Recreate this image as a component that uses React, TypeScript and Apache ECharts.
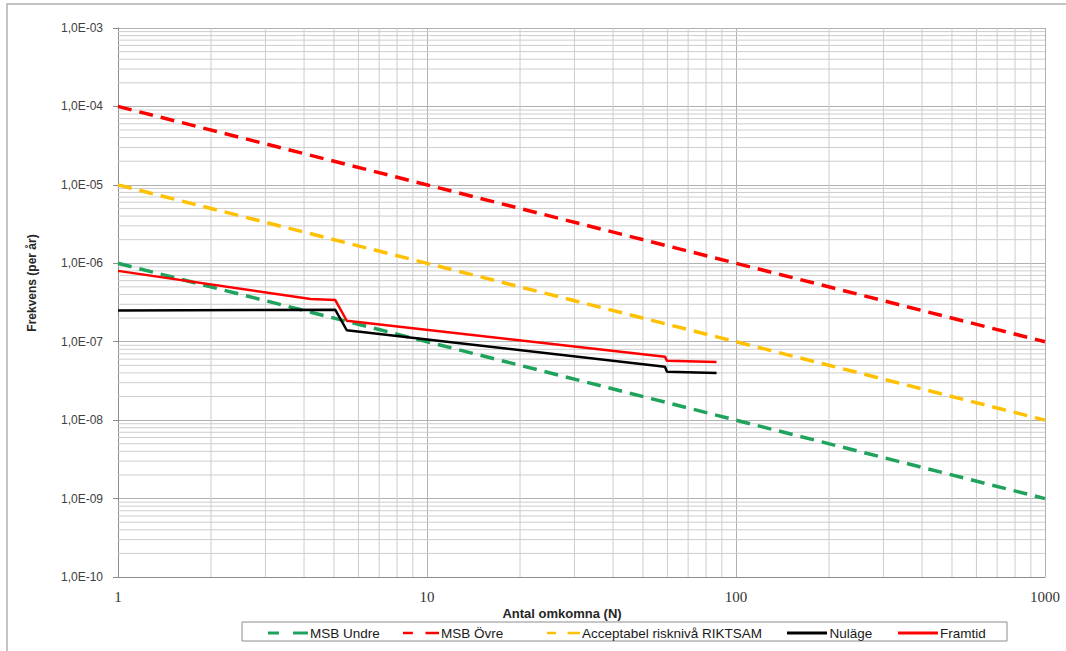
import React, { useEffect, useRef } from "react";
import * as echarts from "echarts";

// Antal omkomna (N) on the x axis, frekvens per år on the y axis (both log10)
const xTickLabels = ["1", "10", "100", "1000"];
const yTickLabels = [
  "1,0E-10",
  "1,0E-09",
  "1,0E-08",
  "1,0E-07",
  "1,0E-06",
  "1,0E-05",
  "1,0E-04",
  "1,0E-03",
];

// Criteria lines (slope -1 in log-log space)
const criteriaN = [1, 1000];
const msbUndreF = [1e-6, 1e-9];
const msbOvreF = [1e-4, 1e-7];
const riktsamF = [1e-5, 1e-8];

// F/N curves
const nulageN = [1, 5.05, 5.5, 58.9, 59.8, 86.5];
const nulageF = [2.5e-7, 2.55e-7, 1.4e-7, 4.8e-8, 4.15e-8, 4.0e-8];
const framtidN = [1, 4.2, 5.05, 5.5, 58.9, 59.8, 86.5];
const framtidF = [8e-7, 3.5e-7, 3.4e-7, 1.85e-7, 6.45e-8, 5.7e-8, 5.5e-8];

const seriesNames = ["MSB Undre", "MSB Övre", "Acceptabel risknivå RIKTSAM", "Nuläge", "Framtid"];

const pairs = (xs: number[], ys: number[]) => xs.map((x, i) => [x, ys[i]]);

// minor grid positions: 2..9 within each decade
const minorSteps = (fromExp: number, toExp: number) => {
  const out: number[] = [];
  for (let e = fromExp; e < toExp; e++) {
    for (let m = 2; m <= 9; m++) out.push(m * Math.pow(10, e));
  }
  return out;
};

const X_MIN = 1;
const X_MAX = 1000;
const Y_MIN = 1e-10;
const Y_MAX = 1e-3;

// legend glyphs: two short dashes, or one solid bar
const DASH_ICON = "path://M0,0H11V3H0Z M25,0H40V3H25Z";
const SOLID_ICON = "path://M0,0H40V3H0Z";

export default function App() {
  const ref = useRef<HTMLDivElement>(null);

  useEffect(() => {
    if (!ref.current) return;
    const chart = echarts.init(ref.current, null, { renderer: "svg" });

    // [x, y, orientation]: 0 = vertical line at x, 1 = horizontal line at y
    const minorGrid = [
      ...minorSteps(0, 3).map((v) => [v, 1e-6, 0]),
      ...minorSteps(-10, -3).map((v) => [10, v, 1]),
    ];

    const sans = "'Liberation Sans', Arial, sans-serif";

    const legendItem = (name: string, left: number, width: number, icon: string) => ({
      data: [{ name, icon }],
      left,
      top: 626,
      padding: 0,
      itemWidth: width,
      itemHeight: 3,
      itemGap: 0,
      selectedMode: false,
      textStyle: { fontFamily: sans, fontSize: 13.5, color: "#1a1a1a", padding: [0, 0, 0, -3] },
    });

    chart.setOption({
      animation: false,
      backgroundColor: "#ffffff",
      grid: { left: 118, top: 28, width: 927, height: 549, containLabel: false },
      xAxis: {
        type: "log",
        logBase: 10,
        min: X_MIN,
        max: X_MAX,
        axisLine: { show: true, lineStyle: { color: "#8c8c8c", width: 1 } },
        axisTick: { show: false },
        axisLabel: {
          margin: 12,
          fontFamily: "'Liberation Serif', 'Times New Roman', serif",
          fontSize: 15,
          color: "#333333",
          formatter: (v: number) => xTickLabels[Math.round(Math.log10(v))] ?? "",
        },
        splitLine: { show: true, lineStyle: { color: "#b0b0b0", width: 1 } },
      },
      yAxis: {
        type: "log",
        logBase: 10,
        min: Y_MIN,
        max: Y_MAX,
        axisLine: { show: true, lineStyle: { color: "#8c8c8c", width: 1 } },
        axisTick: { show: true, length: 5, lineStyle: { color: "#8c8c8c" } },
        axisLabel: {
          margin: 15,
          fontFamily: sans,
          fontSize: 12,
          color: "#404040",
          formatter: (v: number) => yTickLabels[Math.round(Math.log10(v)) + 10] ?? "",
        },
        splitLine: { show: true, lineStyle: { color: "#b0b0b0", width: 1 } },
      },
      legend: [
        legendItem(seriesNames[0], 268, 40, DASH_ICON),
        legendItem(seriesNames[1], 403, 36, DASH_ICON),
        legendItem(seriesNames[2], 547, 33, DASH_ICON),
        legendItem(seriesNames[3], 787, 41, SOLID_ICON),
        legendItem(seriesNames[4], 898, 40, SOLID_ICON),
      ],
      graphic: [
        {
          type: "rect",
          z: -10,
          shape: { x: 7, y: 4, width: 1070, height: 660 },
          style: { fill: "none", stroke: "#b0b0b0", lineWidth: 1.5 },
          silent: true,
        },
        {
          type: "rect",
          z: -5,
          shape: { x: 242, y: 622, width: 765, height: 19 },
          style: { fill: "#ffffff", stroke: "#8c8c8c", lineWidth: 1 },
          silent: true,
        },
        {
          type: "text",
          x: 32,
          y: 283,
          rotation: Math.PI / 2,
          style: {
            text: "Frekvens (per år)",
            fontFamily: sans,
            fontWeight: "bold",
            fontSize: 12,
            fill: "#262626",
            align: "center",
            verticalAlign: "middle",
          },
          silent: true,
        },
        {
          type: "text",
          x: 562,
          y: 613,
          style: {
            text: "Antal omkomna (N)",
            fontFamily: sans,
            fontWeight: "bold",
            fontSize: 13,
            fill: "#262626",
            align: "center",
            verticalAlign: "middle",
          },
          silent: true,
        },
      ],
      series: [
        {
          name: "minor-grid",
          type: "custom",
          silent: true,
          z: 1,
          clip: true,
          data: minorGrid,
          renderItem: (_params: any, api: any) => {
            const vertical = api.value(2) === 0;
            const p1 = vertical
              ? api.coord([api.value(0), Y_MIN])
              : api.coord([X_MIN, api.value(1)]);
            const p2 = vertical
              ? api.coord([api.value(0), Y_MAX])
              : api.coord([X_MAX, api.value(1)]);
            return {
              type: "line",
              shape: { x1: p1[0], y1: p1[1], x2: p2[0], y2: p2[1] },
              style: { stroke: "#cdcdcd", lineWidth: 1 },
            };
          },
        },
        {
          name: seriesNames[0],
          type: "line",
          symbol: "none",
          z: 3,
          data: pairs(criteriaN, msbUndreF),
          lineStyle: { color: "#1fa35c", width: 3.5, type: [14, 8] },
          itemStyle: { color: "#1fa35c" },
        },
        {
          name: seriesNames[1],
          type: "line",
          symbol: "none",
          z: 3,
          data: pairs(criteriaN, msbOvreF),
          lineStyle: { color: "#ff0000", width: 3.5, type: [14, 8] },
          itemStyle: { color: "#ff0000" },
        },
        {
          name: seriesNames[2],
          type: "line",
          symbol: "none",
          z: 3,
          data: pairs(criteriaN, riktsamF),
          lineStyle: { color: "#ffc000", width: 3.5, type: [14, 8] },
          itemStyle: { color: "#ffc000" },
        },
        {
          name: seriesNames[3],
          type: "line",
          symbol: "none",
          z: 4,
          data: pairs(nulageN, nulageF),
          lineStyle: { color: "#000000", width: 2.5 },
          itemStyle: { color: "#000000" },
        },
        {
          name: seriesNames[4],
          type: "line",
          symbol: "none",
          z: 4,
          data: pairs(framtidN, framtidF),
          lineStyle: { color: "#ff0000", width: 2.5 },
          itemStyle: { color: "#ff0000" },
        },
      ],
    });

    return () => chart.dispose();
  }, []);

  return (
    <div
      ref={ref}
      style={{ position: "absolute", left: 0, top: 0, width: 1066, height: 651 }}
    />
  );
}
